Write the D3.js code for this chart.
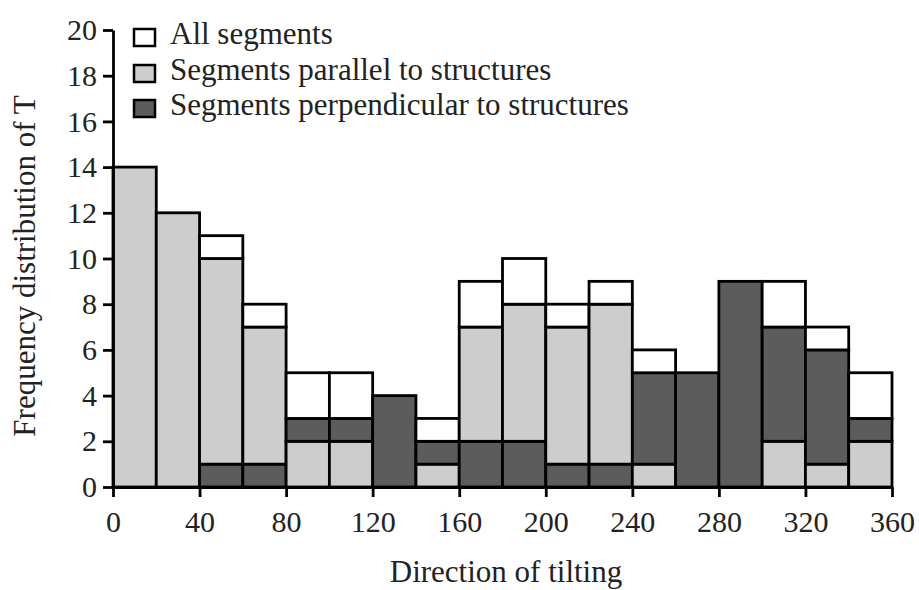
<!DOCTYPE html>
<html>
<head>
<meta charset="utf-8">
<script src="https://cdn.jsdelivr.net/npm/d3@7"></script>
<style>
  body { margin: 0; background: #fff; }
  svg { display: block; font-family: "Liberation Serif", "DejaVu Serif", serif; }
  .axis path, .axis line { stroke: #000; stroke-width: 2.8; }
  .axis text { font-size: 30px; fill: #222; }
</style>
</head>
<body>
<svg id="chart" width="919" height="590"></svg>
<script>
// bins of 20 degrees, start angle of each
const binStarts = [0, 20, 40, 60, 80, 100, 120, 140, 160, 180, 200, 220, 240, 260, 280, 300, 320, 340];
const parallel =      [14, 12, 9, 6, 2, 2, 0, 1, 5, 6, 6, 7, 1, 0, 0, 2, 1, 2];
const perpendicular = [0, 0, 1, 1, 1, 1, 4, 1, 2, 2, 1, 1, 4, 5, 9, 5, 5, 1];
const allSegments =   [14, 12, 11, 8, 5, 5, 4, 3, 9, 10, 8, 9, 6, 5, 9, 9, 7, 5];
// which group sits at the bottom of each stacked bar
const bottomGroup = ["par", "par", "perp", "perp", "par", "par", "par", "par",
  "perp", "perp", "perp", "perp", "par", "par", "par", "par", "par", "par"];
const binWidth = 20;
const xTicks = [0, 40, 80, 120, 160, 200, 240, 280, 320, 360];
const yTicks = [0, 2, 4, 6, 8, 10, 12, 14, 16, 18, 20];
const legendLabels = ["All segments", "Segments parallel to structures", "Segments perpendicular to structures"];

const COL = { all: "#ffffff", par: "#cdcdcd", perp: "#5c5c5c" };
const FONT = '"Liberation Serif", "DejaVu Serif", serif';

const svg = d3.select("#chart");
const x = d3.scaleLinear().domain([0, 360]).range([113, 892]);
const y = d3.scaleLinear().domain([0, 20]).range([487, 30]);

// build stacked segments per bin
const segs = [];
binStarts.forEach((b, i) => {
  const order = bottomGroup[i] === "perp" ? ["perp", "par"] : ["par", "perp"];
  const vals = { par: parallel[i], perp: perpendicular[i] };
  let base = 0;
  order.forEach(k => {
    if (vals[k] > 0) segs.push({ b, y0: base, y1: base + vals[k], k });
    base += vals[k];
  });
  if (allSegments[i] > base) segs.push({ b, y0: base, y1: allSegments[i], k: "all" });
});

svg.append("g").selectAll("rect")
  .data(segs)
  .enter().append("rect")
  .attr("x", d => x(d.b))
  .attr("width", d => x(d.b + binWidth) - x(d.b))
  .attr("y", d => y(d.y1))
  .attr("height", d => y(d.y0) - y(d.y1))
  .attr("fill", d => COL[d.k])
  .attr("stroke", "#000")
  .attr("stroke-width", 2.8);

// axes
svg.append("g").attr("class", "axis")
  .attr("transform", `translate(0,${y(0)})`)
  .call(d3.axisBottom(x).tickValues(xTicks).tickSize(10).tickSizeOuter(0).tickPadding(14))
  .attr("font-family", FONT);

svg.append("g").attr("class", "axis")
  .attr("transform", `translate(${x(0)},0)`)
  .call(d3.axisLeft(y).tickValues(yTicks).tickSize(10).tickSizeOuter(0).tickPadding(6))
  .attr("font-family", FONT);

// axis titles
svg.append("text")
  .attr("x", 506).attr("y", 582)
  .attr("text-anchor", "middle")
  .attr("font-size", 31).attr("fill", "#222")
  .text("Direction of tilting");

svg.append("text")
  .attr("transform", `translate(35,266) rotate(-90)`)
  .attr("text-anchor", "middle")
  .attr("font-size", 31).attr("fill", "#222")
  .text("Frequency distribution of T");

// legend
const legend = svg.append("g");
const legKeys = ["all", "par", "perp"];
const legBase = [44, 80, 115];
legKeys.forEach((k, i) => {
  legend.append("rect")
    .attr("x", 134).attr("y", legBase[i] - 15)
    .attr("width", 21).attr("height", 17)
    .attr("fill", COL[k]).attr("stroke", "#000").attr("stroke-width", 2.5);
  legend.append("text")
    .attr("x", 170).attr("y", legBase[i])
    .attr("font-size", 31).attr("fill", "#222")
    .text(legendLabels[i]);
});
</script>
</body>
</html>
